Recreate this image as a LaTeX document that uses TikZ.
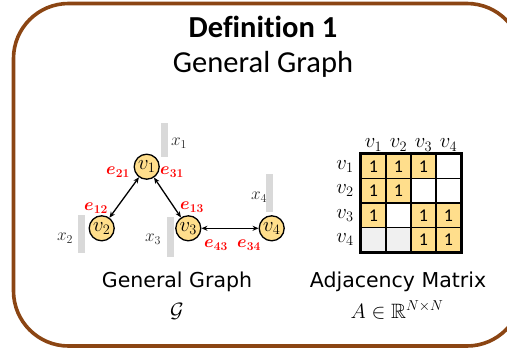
\documentclass[tikz,border=0pt]{standalone}
\usepackage{amsmath,amssymb}
\usepackage{fontspec}
\setmainfont{Carlito}[Ligatures=NoCommon]
\newfontfamily\labfont{DejaVu Sans}
\usetikzlibrary{arrows.meta}
\definecolor{framebrown}{RGB}{139,69,19}
\definecolor{nodeyellow}{RGB}{255,222,140}
\definecolor{bargray}{RGB}{217,217,217}
\definecolor{cellgray}{RGB}{240,240,240}
\definecolor{edgered}{RGB}{255,0,0}
\tikzset{
  vnode/.style={circle, draw=black, line width=1.3pt, fill=nodeyellow, minimum size=25pt, inner sep=0pt, font=\fontsize{20.74}{20.74}\selectfont},
  featbar/.style={fill=bargray, draw=none, minimum width=7pt, inner sep=0pt},
  flab/.style={font=\fontsize{17.28}{17.28}\selectfont, text=black!85, inner sep=0pt},
  elab/.style={font=\fontsize{17.28}{17.28}\selectfont, text=edgered, inner sep=0pt},
  biarrow/.style={{Stealth[length=6pt,width=5pt]}-{Stealth[length=6pt,width=5pt]}, line width=1.3pt},
  cell/.style={draw=black, line width=1.2pt, minimum width=25pt, minimum height=24.5pt, inner sep=0pt, font=\fontsize{18}{18}\selectfont},
  mlab/.style={font=\fontsize{20.74}{20.74}\selectfont, inner sep=0pt},
  caption/.style={font=\labfont\fontsize{20.5}{20.5}\selectfont, inner sep=0pt},
}
\begin{document}
\begin{tikzpicture}[x=1pt,y=-1pt]
\useasboundingbox (0,0) rectangle (507,351);
% frame
\begin{scope}
\clip (0,0) rectangle (507,351);
\draw[framebrown, line width=3.6pt, rounded corners=55pt] (13.5,3.5) rectangle (522,346);
\end{scope}
% title
\node[font=\bfseries\fontsize{30.5}{30.5}\selectfont, inner sep=0pt] (title) at (263,27) {Definition 1};
\node[font=\fontsize{30.5}{30.5}\selectfont, inner sep=0pt] (subtitle) at (263,64) {General Graph};
% feature bars
\node[featbar, minimum height=34pt] (b1) at (164.5,140) {};
\node[featbar, minimum height=38pt] (b2) at (81,234) {};
\node[featbar, minimum height=40pt] (b3) at (170.5,237) {};
\node[featbar, minimum height=38pt] (b4) at (269.5,193) {};
\node[flab] (x1) at (179,143) {$x_1$};
\node[flab] (x2) at (65,238) {$x_2$};
\node[flab] (x3) at (153,239) {$x_3$};
\node[flab] (x4) at (259,197) {$x_4$};
% nodes
\node[vnode] (v1) at (146.7,166.7) {$v_1$};
\node[vnode] (v2) at (101.7,228.3) {$v_2$};
\node[vnode] (v3) at (188.3,228.3) {$v_3$};
\node[vnode] (v4) at (271.7,228.3) {$v_4$};
% edges
\draw[biarrow] (v1) -- (v2);
\draw[biarrow] (v1) -- (v3);
\draw[biarrow] (v3) -- (v4);
% edge labels
\node[elab] (e21) at (118,172) {$\boldsymbol{e_{21}}$};
\node[elab] (e31) at (172,172) {$\boldsymbol{e_{31}}$};
\node[elab] (e12) at (96,208) {$\boldsymbol{e_{12}}$};
\node[elab] (e13) at (192,207) {$\boldsymbol{e_{13}}$};
\node[elab] (e43) at (216,245) {$\boldsymbol{e_{43}}$};
\node[elab] (e34) at (249,245) {$\boldsymbol{e_{34}}$};
% adjacency matrix
\foreach \r/\c/\s in {1/1/1,1/2/1,1/3/1,1/4/0,2/1/1,2/2/1,2/3/0,2/4/0,3/1/1,3/2/0,3/3/1,3/4/1,4/1/2,4/2/2,4/3/1,4/4/1}{
  \ifcase\s
    \node[cell, fill=white] (c\r\c) at ({361+25*(\c-0.5)},{154+24.5*(\r-0.5)}) {};
  \or
    \node[cell, fill=nodeyellow] (c\r\c) at ({361+25*(\c-0.5)},{154+24.5*(\r-0.5)}) {1};
  \or
    \node[cell, fill=cellgray] (c\r\c) at ({361+25*(\c-0.5)},{154+24.5*(\r-0.5)}) {};
  \fi
}
\draw[line width=2.6pt] (c11.north west) rectangle (c44.south east);
\foreach \i in {1,...,4}{
  \node[mlab] (col\i) at ({361+25*(\i-0.5)},145) {$v_{\i}$};
  \node[mlab] (row\i) at (345,{154+24.5*(\i-0.5)}) {$v_{\i}$};
}
% captions
\node[caption] (capG) at (177,282) {General Graph};
\node[font=\fontsize{20.74}{20.74}\selectfont, inner sep=0pt] (symG) at (177,311) {$\mathcal{G}$};
\node[caption] (capA) at (398,282) {Adjacency Matrix};
\node[font=\fontsize{20.74}{20.74}\selectfont, inner sep=0pt] (symA) at (397,310) {$A\in\mathbb{R}^{N\times N}$};
\end{tikzpicture}
\end{document}
